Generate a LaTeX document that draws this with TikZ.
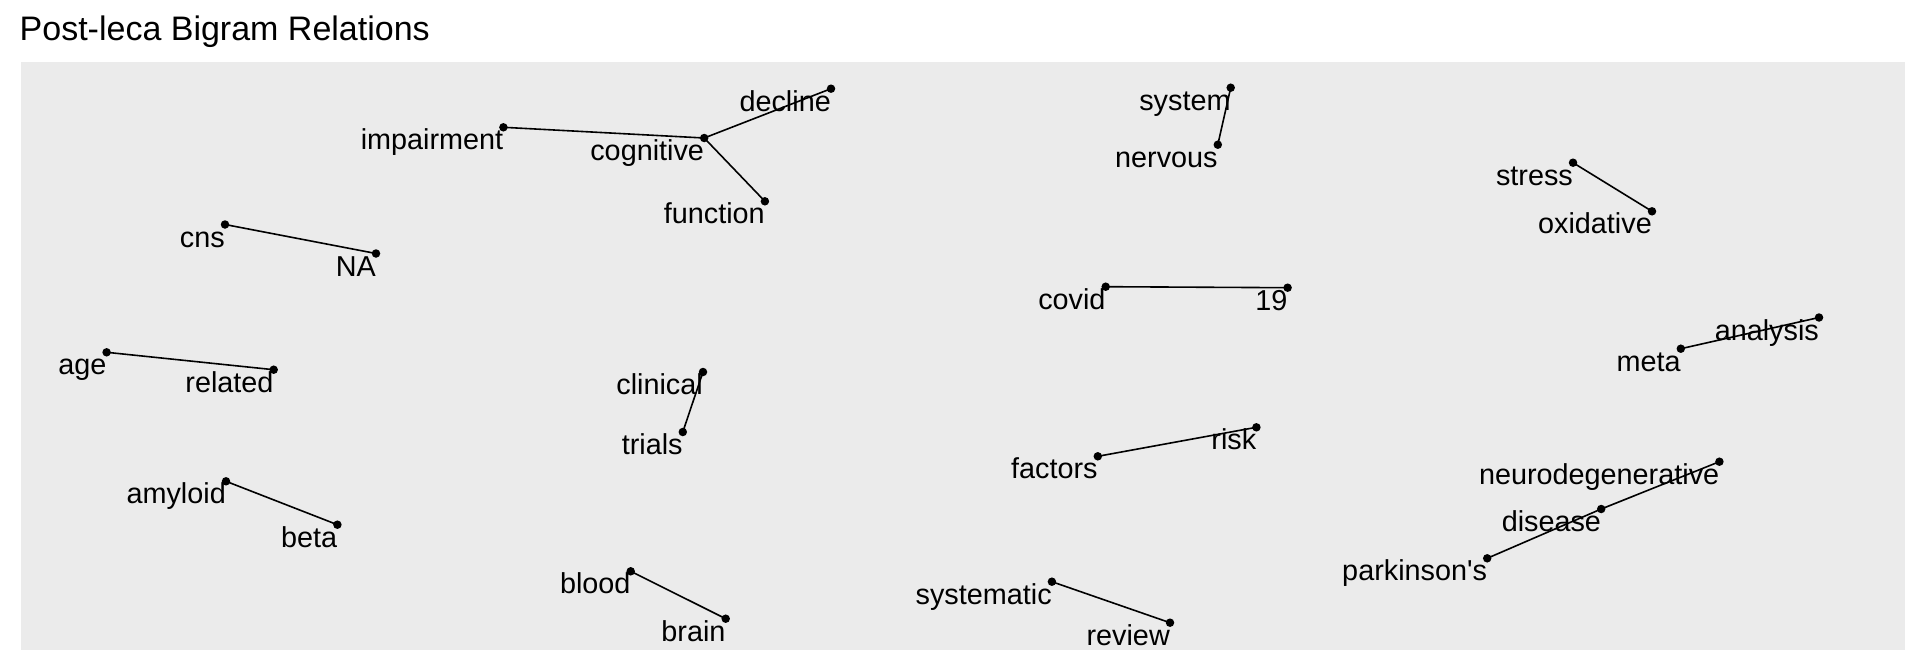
\documentclass[tikz,border=0pt]{standalone}
\usepackage{fontspec}
\setmainfont{Liberation Sans}[Ligatures=TeXOff]
\begin{document}
\begin{tikzpicture}[x=1pt,y=-1pt,
  pt/.style={circle,fill=black,inner sep=0pt,minimum size=8.5pt},
  lbl/.style={inner sep=0pt,anchor=base east,font=\fontsize{28.8}{30}\selectfont},
  edge/.style={line width=1.6pt,black}]
\useasboundingbox (0,0) rectangle (1920,672);
\fill[white] (0,0) rectangle (1920,672);
\fill[fill={rgb,255:red,235;green,235;blue,235}] (21,62) rectangle (1905,650);
\node[inner sep=0pt,anchor=base west,font=\fontsize{34}{36}\selectfont] (title) at (19.5,40) {Post-leca Bigram Relations};
% points
\node[pt] (decline) at (831,88.7) {};
\node[pt] (impairment) at (503.4,127.3) {};
\node[pt] (cognitive) at (704.2,138) {};
\node[pt] (function) at (764.9,201.3) {};
\node[pt] (cns) at (225,224.5) {};
\node[pt] (na) at (376,253.5) {};
\node[pt] (system) at (1230.7,87.7) {};
\node[pt] (nervous) at (1217.8,144.7) {};
\node[pt] (stress) at (1573,162.7) {};
\node[pt] (oxidative) at (1652,211.3) {};
\node[pt] (covid) at (1105.7,286.7) {};
\node[pt] (n19) at (1287.6,287.7) {};
\node[pt] (analysis) at (1819,317.5) {};
\node[pt] (meta) at (1680.8,348.7) {};
\node[pt] (age) at (106.6,352.3) {};
\node[pt] (related) at (273.7,369.7) {};
\node[pt] (clinical) at (703,372) {};
\node[pt] (trials) at (682.8,432) {};
\node[pt] (amyloid) at (226,481.3) {};
\node[pt] (beta) at (337.4,524.7) {};
\node[pt] (blood) at (630.7,571.3) {};
\node[pt] (brain) at (725.7,618.7) {};
\node[pt] (risk) at (1256.4,427.3) {};
\node[pt] (factors) at (1097.8,456.3) {};
\node[pt] (neuro) at (1719.4,461.7) {};
\node[pt] (disease) at (1601.2,509) {};
\node[pt] (parkinson) at (1487.2,558.3) {};
\node[pt] (systematic) at (1051.9,581.7) {};
\node[pt] (review) at (1170,622.7) {};
% edges
\draw[edge] (cognitive.center) -- (decline.center);
\draw[edge] (impairment.center) -- (cognitive.center);
\draw[edge] (cognitive.center) -- (function.center);
\draw[edge] (cns.center) -- (na.center);
\draw[edge] (nervous.center) -- (system.center);
\draw[edge] (stress.center) -- (oxidative.center);
\draw[edge] (covid.center) -- (n19.center);
\draw[edge] (meta.center) -- (analysis.center);
\draw[edge] (age.center) -- (related.center);
\draw[edge] (clinical.center) -- (trials.center);
\draw[edge] (amyloid.center) -- (beta.center);
\draw[edge] (blood.center) -- (brain.center);
\draw[edge] (factors.center) -- (risk.center);
\draw[edge] (neuro.center) -- (disease.center);
\draw[edge] (disease.center) -- (parkinson.center);
\draw[edge] (systematic.center) -- (review.center);
% labels
\foreach \n/\t in {decline/decline,impairment/impairment,cognitive/cognitive,function/function,cns/cns,na/NA,system/system,nervous/nervous,stress/stress,oxidative/oxidative,covid/covid,n19/19,analysis/analysis,meta/meta,age/age,related/related,clinical/clinical,trials/trials,amyloid/amyloid,beta/beta,blood/blood,brain/brain,risk/risk,factors/factors,neuro/neurodegenerative,disease/disease,parkinson/parkinson's,systematic/systematic,review/review}
  \node[lbl] (l\n) at ([yshift=-22.5pt]\n.center) {\t};
\end{tikzpicture}
\end{document}
